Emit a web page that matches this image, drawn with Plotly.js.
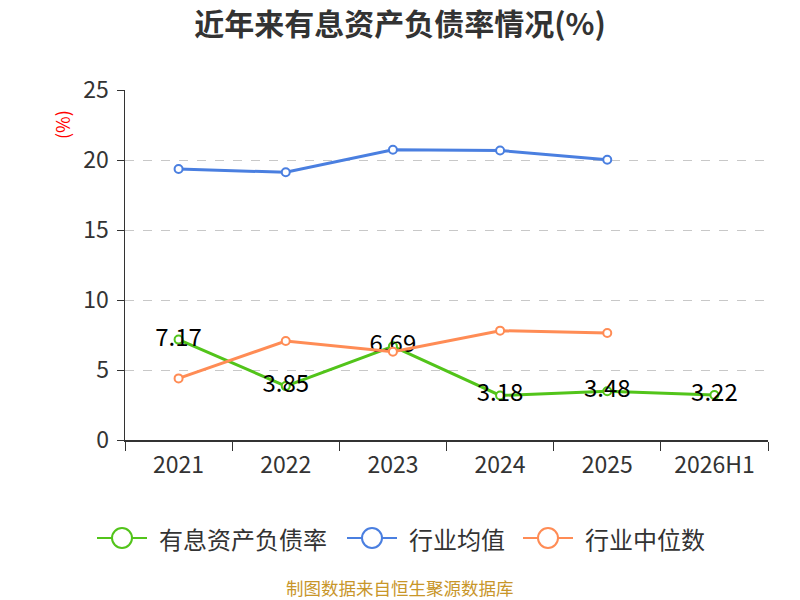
<!DOCTYPE html>
<html><head><meta charset="utf-8">
<script src="https://cdn.plot.ly/plotly-3.0.1.min.js"></script>
<style>body{margin:0;}#c{width:800px;height:600px;}</style>
</head><body><div id="c"></div>
<script>
var categories = ["2021","2022","2023","2024","2025","2026H1"];
var debtRatio = [7.17, 3.85, 6.69, 3.18, 3.48, 3.22];
var industryAvg = [19.36, 19.12, 20.73, 20.68, 20.02];
var industryMedian = [4.40, 7.07, 6.31, 7.81, 7.64];
var seriesNames = ["有息资产负债率","行业均值","行业中位数"];
var seriesColors = ["#52c41a","#4a7fe0","#ff8c55"];
var yTicks = [0,5,10,15,20,25];

var font = "'Noto Sans CJK SC', 'Noto Sans', sans-serif";
var M = {l:125, r:32, t:90, b:160};
var PW = 800 - M.l - M.r, PH = 600 - M.t - M.b;
function px(x){return (x - M.l) / PW;}
function py(y){return (600 - M.b - y) / PH;}

function mk(color){return {symbol:"circle", size:8, color:"#ffffff", line:{color:color, width:2}};}
var traces = [
 {x:categories, y:debtRatio, name:seriesNames[0], type:"scatter", mode:"lines+markers+text",
  text:debtRatio.map(function(v){return v.toFixed(2);}), textposition:"middle center",
  textfont:{size:24, color:"#000000", family:font},
  line:{color:seriesColors[0], width:3}, marker:mk(seriesColors[0]), cliponaxis:false},
 {x:categories.slice(0,5), y:industryAvg, name:seriesNames[1], type:"scatter", mode:"lines+markers",
  line:{color:seriesColors[1], width:3}, marker:mk(seriesColors[1])},
 {x:categories.slice(0,5), y:industryMedian, name:seriesNames[2], type:"scatter", mode:"lines+markers",
  line:{color:seriesColors[2], width:3}, marker:mk(seriesColors[2])}
];

// custom legend
var legendStarts = [97, 347, 523];
var legY = 538;
var shapes = [], annotations = [];
for (var i = 0; i < 3; i++) {
  var s = legendStarts[i];
  shapes.push({type:"line", xref:"paper", yref:"paper", x0:px(s), x1:px(s+50), y0:py(legY), y1:py(legY),
    line:{color:seriesColors[i], width:2}});
  shapes.push({type:"circle", xref:"paper", yref:"paper", x0:px(s+15), x1:px(s+35), y0:py(legY-10), y1:py(legY+10),
    fillcolor:"#ffffff", line:{color:seriesColors[i], width:2}});
  annotations.push({text:seriesNames[i], xref:"paper", yref:"paper", x:px(s+60), y:py(legY), xanchor:"left", yanchor:"middle",
    showarrow:false, font:{size:24, color:"#333333", family:font}});
}
annotations.push({text:"(%)", xref:"paper", yref:"paper", x:px(62), y:py(125), xanchor:"center", yanchor:"middle", showarrow:false, textangle:-90, font:{size:18, color:"#ff0000", family:font}});
annotations.push({text:"制图数据来自恒生聚源数据库", xref:"paper", yref:"paper", x:px(400), y:py(587), xanchor:"center", yanchor:"middle", showarrow:false, borderpad:0, font:{size:17.5, color:"#c8962a", family:font}});

var layout = {
 width:800, height:600, paper_bgcolor:"#fff", plot_bgcolor:"#fff",
 margin:M,
 font:{family:font, color:"#333"},
 title:{text:"<b>近年来有息资产负债率情况(%)</b>", x:0.5, xanchor:"center", y:1-24/600, yanchor:"middle", font:{size:30, color:"#333", family:font}},
 showlegend:false,
 xaxis:{type:"category", categoryorder:"array", categoryarray:categories, range:[-0.5,5.5],
  showline:true, linecolor:"#333", linewidth:1.5, ticks:"outside", tickson:"boundaries", ticklen:9, tickcolor:"#333",
  ticklabelstandoff:4,
  showgrid:false, zeroline:false, tickfont:{size:23, color:"#333", family:font}},
 yaxis:{range:[0,25], tickvals:yTicks, showline:true, linecolor:"#333", linewidth:1.5, ticks:"outside", ticklen:7, tickcolor:"#333",
  ticklabelstandoff:3,
  showgrid:true, gridcolor:"#c8c8c8", griddash:"dash", gridwidth:1, zeroline:false,
  tickfont:{size:23, color:"#333", family:font}},
 shapes:shapes,
 annotations:annotations
};
Plotly.newPlot("c", traces, layout, {displayModeBar:false, staticPlot:true});
</script></body></html>
